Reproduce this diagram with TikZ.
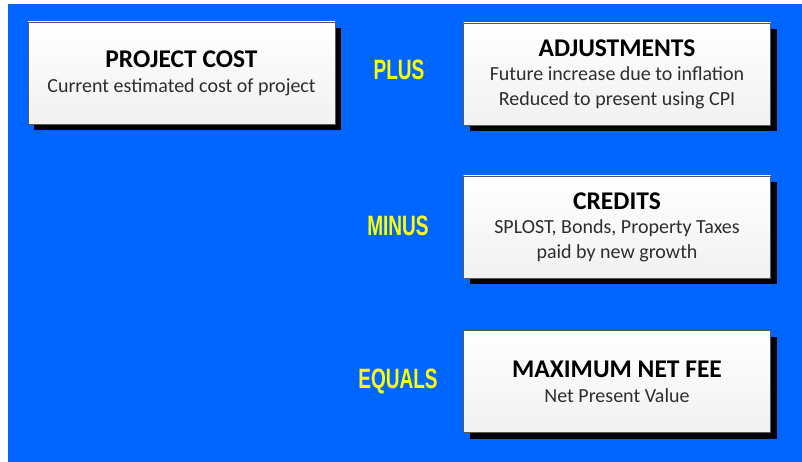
\documentclass[tikz,border=0pt]{standalone}
\usepackage{fontspec}
\setmainfont{Carlito}
\newfontfamily\labelfont{Liberation Sans}
\usetikzlibrary{shadows}

\definecolor{slideblue}{HTML}{0066FF}
\definecolor{labelyellow}{HTML}{FFFF00}
\definecolor{subtext}{HTML}{2E2E2E}

\tikzset{
	costbox/.style={draw=gray!70!black, line width=0.8pt,
		top color=white, bottom color=gray!11,
		minimum width=307pt, minimum height=102pt,
		align=center, inner sep=0pt, text=subtext,
		font=\fontsize{20}{25}\selectfont,
		drop shadow={shadow xshift=6pt, shadow yshift=-6pt, fill=black, opacity=1}},
	oplabel/.style={text=labelyellow, font=\labelfont\bfseries\fontsize{28}{28}\selectfont}
}

\newcommand{\boxtitle}[1]{{\color{black}\bfseries\fontsize{25.5}{25}\selectfont #1}}
\newcommand{\opword}[1]{\scalebox{0.68}[1]{#1}}

\begin{document}
\begin{tikzpicture}[x=1pt, y=-1pt]
		% Page and background
		\useasboundingbox (0,0) rectangle (802,462);
		\fill[white] (0,0) rectangle (802,462);
		\fill[slideblue] (8,4) rectangle (802,462);
		
		% Left box
		\node[costbox] (cost) at (181.5,73) {\boxtitle{PROJECT COST}\\[0pt]
			Current estimated cost of project};
		
		% Right column of boxes
		\node[costbox] (adjust) at (617,74) {\boxtitle{ADJUSTMENTS}\\[-1pt]
			Future increase due to inflation\\
			Reduced to present using CPI};
		\node[costbox] (credits) at (617,227) {\boxtitle{CREDITS}\\[-1pt]
			SPLOST, Bonds, Property Taxes\\
			paid by new growth};
		\node[costbox] (netfee) at (617,381.5) {\boxtitle{MAXIMUM NET FEE}\\[0pt]
			Net Present Value};
		
		% Operators between the columns
		\node[oplabel] (plus) at (399,70) {\opword{PLUS}};
		\node[oplabel] (minus) at (398,226) {\opword{MINUS}};
		\node[oplabel] (equals) at (398,381) {\opword{EQUALS}};
		
	\end{tikzpicture}
\end{document}
